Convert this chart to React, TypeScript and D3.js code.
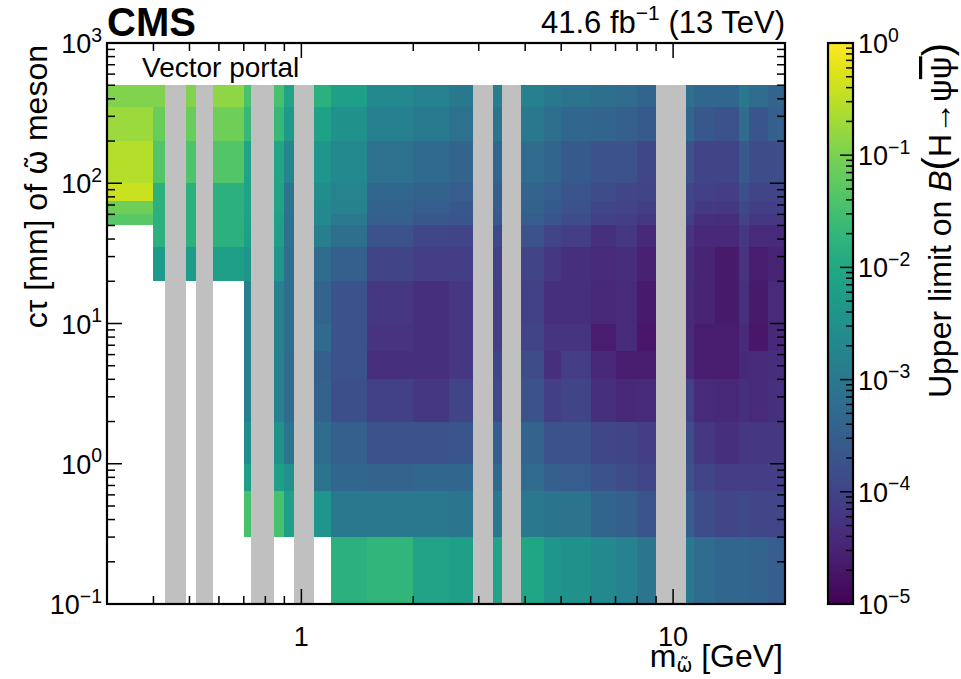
import React, { useEffect } from 'react';
import * as d3 from 'd3';

// ---- data -----------------------------------------------------------------
// mass bin edges [GeV] (columns), ctau bin edges [mm] (rows, top -> bottom)
const massEdges = [0.3, 0.4, 0.46, 0.55, 0.7, 0.78, 0.9, 1.0, 1.2, 1.5, 2.0, 2.5, 3.1, 3.7, 4.5, 5, 6, 7, 8, 9.5, 11.4, 13, 15, 16, 18, 20];
const ctauEdges = [500, 350, 200, 100, 75, 60, 50, 35, 20, 10, 6.4, 4, 2, 1, 0.64, 0.3, 0.1];

// log10 of the upper limit on B(H -> psi psibar); null = no point
const N = null;
const log10Limits: (number | null)[][] = [
  [-0.95, -0.95, -0.95, -0.85, -1.45, -1.45, -2.1, -1.8, -2.2, -2.65, -2.8, -3.0, -2.9, -2.85, -3.0, -3.1, -3.2, -3.25, -3.4, -3.2, -3.35, -3.35, -3.0, -3.25, -3.4],
  [-0.75, -1.15, -1.15, -1.1, -1.65, -1.65, -2.3, -2.15, -2.5, -2.85, -2.95, -3.15, -3.1, -3.0, -3.2, -3.35, -3.4, -3.5, -3.6, -3.35, -3.65, -3.75, -3.25, -3.7, -3.5],
  [-0.55, -1.35, -1.4, -1.35, -2.1, -2.05, -2.75, -2.4, -2.65, -3.15, -3.3, -3.4, -3.35, -3.25, -3.4, -3.6, -3.75, -3.75, -3.95, -3.75, -4.0, -4.0, -3.6, -3.85, -3.85],
  [-0.4, -1.8, -1.8, -1.8, -2.1, -2.1, -3.1, -2.55, -2.75, -3.35, -3.45, -3.55, -3.5, -3.4, -3.55, -3.7, -3.85, -3.95, -4.0, -3.95, -4.05, -4.1, -3.8, -4.0, -4.0],
  [-1.1, -1.8, -1.8, -1.8, -2.1, -2.1, -3.1, -2.65, -2.8, -3.45, -3.55, -3.65, -3.55, -3.45, -3.6, -3.75, -3.95, -4.0, -4.1, -4.0, -4.15, -4.2, -3.9, -4.1, -4.1],
  [-1.3, -1.8, -1.8, -1.8, -2.15, -2.15, -3.15, -2.65, -2.95, -3.5, -3.65, -3.7, -3.6, -3.55, -3.7, -3.85, -4.05, -4.1, -4.2, -4.05, -4.3, -4.35, -4.0, -4.2, -4.2],
  [N, -1.8, -1.8, -1.8, -2.2, -2.2, -3.15, -2.9, -3.2, -3.75, -3.95, -4.0, -3.9, -3.75, -4.0, -4.1, -4.3, -4.2, -4.45, -4.25, -4.45, -4.45, -4.2, -4.4, -4.4],
  [N, -2.25, -2.25, -2.2, -2.4, -2.4, -3.2, -3.25, -3.5, -4.0, -4.1, -4.1, -4.05, -4.0, -4.2, -4.3, -4.4, -4.35, -4.55, -4.35, -4.5, -4.65, -4.25, -4.6, -4.5],
  [N, N, N, N, -2.85, -2.8, -3.2, -3.4, -3.75, -4.2, -4.3, -4.2, -4.1, -4.05, -4.3, -4.3, -4.45, -4.4, -4.65, -4.4, -4.5, -4.65, -4.3, -4.65, -4.4],
  [N, N, N, N, -2.85, -2.8, -3.2, -3.3, -3.75, -4.25, -4.3, -4.2, -4.1, -4.0, -4.25, -4.25, -4.6, -4.4, -4.7, -4.4, -4.6, -4.6, -4.4, -4.7, -4.45],
  [N, N, N, N, -2.85, -2.8, -3.25, -3.5, -3.75, -4.3, -4.3, -4.2, -4.0, -3.85, -4.3, -4.1, -4.45, -4.6, -4.6, -4.4, -4.6, -4.6, -4.45, -4.4, -4.35],
  [N, N, N, N, -2.85, -2.8, -3.25, -3.45, -3.8, -4.05, -4.2, -4.0, -3.9, -3.75, -4.1, -4.0, -4.3, -4.45, -4.4, -4.05, -4.4, -4.45, -4.3, -4.4, -4.3],
  [N, N, N, N, -2.55, -2.5, -3.1, -3.25, -3.5, -3.75, -3.75, -3.7, -3.55, -3.4, -3.75, -3.75, -3.95, -4.0, -4.1, -3.85, -4.2, -4.3, -4.2, -4.2, -4.2],
  [N, N, N, N, -2.2, -2.2, -2.5, -3.1, -3.35, -3.4, -3.35, -3.35, -3.3, -3.25, -3.5, -3.55, -3.75, -3.85, -3.95, -3.75, -4.0, -4.1, -4.1, -4.1, -4.1],
  [N, N, N, N, -1.45, -1.45, -2.2, -2.4, -3.0, -3.0, -3.0, -3.05, -3.0, -3.0, -3.1, -3.1, -3.4, -3.5, -3.7, -3.55, -3.85, -3.95, -3.9, -3.95, -3.95],
  [N, N, N, N, N, N, N, N, -1.8, -1.72, -2.1, -2.2, -2.1, -2.05, -2.4, -2.5, -2.65, -2.8, -3.05, -3.0, -3.25, -3.35, -3.35, -3.4, -3.55],
];

// excluded resonance mass windows [GeV]
const vetoWindows: [number, number][] = [
  [0.43, 0.49], [0.52, 0.58], [0.73, 0.845], [0.956, 1.08], [2.9, 3.28], [3.46, 3.9], [8.97, 10.8],
];

const xMajorTicks = [1, 10];
const xMinorTicks = [0.4, 0.5, 0.6, 0.7, 0.8, 0.9, 2, 3, 4, 5, 6, 7, 8, 9];
const yDecades = [-1, 0, 1, 2, 3];
const zDecades = [-5, -4, -3, -2, -1, 0];

// ---- layout ----------------------------------------------------------------
const W = 961, H = 679;
const X0 = 107, X1 = 785, Y0 = 43, Y1 = 604;
const CBX0 = 828, CBX1 = 853;
const FONT = "'Liberation Sans', Arial, Helvetica, sans-serif";
const MARKFONT = "'DejaVu Sans', sans-serif";
const OMEGA_T = '\u03C9\u0303';

const xScale = d3.scaleLog().domain([0.3, 20]).range([X0, X1]);
const yScale = d3.scaleLog().domain([0.1, 1000]).range([Y1, Y0]);
const zScale = d3.scaleLog().domain([1e-5, 1]).range([Y1, Y0]);
const color = d3.scaleSequentialLog(d3.interpolateViridis).domain([1e-5, 1]);

function Pow10({ x, y, e, anchor, size }: { x: number; y: number; e: number; anchor: string; size: number }) {
  const s = e < 0 ? '\u2212' + String(-e) : String(e);
  return (
    <text x={x} y={y} textAnchor={anchor as any} fontSize={size} fontFamily={FONT} fill="#000">
      10<tspan dy={-size * 0.42} fontSize={size * 0.72}>{s}</tspan>
    </text>
  );
}

export default function App() {
  useEffect(() => {
    document.body.style.margin = '0';
    document.body.style.overflow = 'hidden';
  }, []);

  const cells: React.ReactNode[] = [];
  log10Limits.forEach((row, i) => {
    row.forEach((v, j) => {
      if (v === null) return;
      const xa = xScale(massEdges[j]);
      const xb = xScale(massEdges[j + 1]);
      const ya = yScale(ctauEdges[i]);
      const yb = yScale(ctauEdges[i + 1]);
      cells.push(
        <rect key={`c${i}-${j}`} x={xa} y={ya} width={xb - xa} height={yb - ya}
          fill={color(Math.pow(10, v))} shapeRendering="crispEdges" />
      );
    });
  });

  const heatTop = yScale(ctauEdges[0]);

  const yMinor: number[] = [];
  for (let d = -1; d < 3; d++) for (let k = 2; k <= 9; k++) yMinor.push(k * Math.pow(10, d));
  const zMinor: number[] = [];
  for (let d = -5; d < 0; d++) for (let k = 2; k <= 9; k++) zMinor.push(k * Math.pow(10, d));

  const gradStops = d3.range(0, 1.0001, 0.05);

  return (
    <svg width={W} height={H} style={{ position: 'absolute', left: 0, top: 0, background: '#fff' }}>
      <defs>
        <linearGradient id="cbgrad" x1="0" y1="1" x2="0" y2="0">
          {gradStops.map((t) => (
            <stop key={t} offset={t} stopColor={d3.interpolateViridis(t)} />
          ))}
        </linearGradient>
      </defs>
      <rect x={0} y={0} width={W} height={H} fill="#fff" />

      {/* heatmap */}
      <g>{cells}</g>

      {/* vetoed mass windows */}
      {vetoWindows.map(([a, b], i) => (
        <rect key={`v${i}`} x={xScale(a)} y={heatTop} width={xScale(b) - xScale(a)} height={Y1 - heatTop}
          fill="#c0c0c0" shapeRendering="crispEdges" />
      ))}

      {/* ticks */}
      <g stroke="#000" strokeWidth={1.5}>
        {xMajorTicks.map((t) => (
          <g key={`xM${t}`}>
            <line x1={xScale(t)} x2={xScale(t)} y1={Y1} y2={Y1 - 15} />
            <line x1={xScale(t)} x2={xScale(t)} y1={Y0} y2={Y0 + 15} />
          </g>
        ))}
        {xMinorTicks.map((t) => (
          <g key={`xm${t}`}>
            <line x1={xScale(t)} x2={xScale(t)} y1={Y1} y2={Y1 - 8} />
            <line x1={xScale(t)} x2={xScale(t)} y1={Y0} y2={Y0 + 8} />
          </g>
        ))}
        {yDecades.map((d) => (
          <g key={`yM${d}`}>
            <line x1={X0} x2={X0 + 15} y1={yScale(Math.pow(10, d))} y2={yScale(Math.pow(10, d))} />
            <line x1={X1} x2={X1 - 15} y1={yScale(Math.pow(10, d))} y2={yScale(Math.pow(10, d))} />
          </g>
        ))}
        {yMinor.map((t) => (
          <g key={`ym${t}`}>
            <line x1={X0} x2={X0 + 8} y1={yScale(t)} y2={yScale(t)} />
            <line x1={X1} x2={X1 - 8} y1={yScale(t)} y2={yScale(t)} />
          </g>
        ))}
      </g>

      {/* frame */}
      <rect x={X0} y={Y0} width={X1 - X0} height={Y1 - Y0} fill="none" stroke="#000" strokeWidth={2.2} />

      {/* tick labels */}
      {xMajorTicks.map((t) => (
        <text key={`xl${t}`} x={xScale(t)} y={Y1 + 42} textAnchor="middle" fontSize={27} fontFamily={FONT}>
          {String(t)}
        </text>
      ))}
      {yDecades.map((d) => (
        <Pow10 key={`yl${d}`} x={X0 - 5} y={yScale(Math.pow(10, d)) + 10} e={d} anchor="end" size={27} />
      ))}

      {/* axis titles */}
      <text x={X1 - 2} y={667} textAnchor="end" fontSize={32} fontFamily={FONT}>
        m<tspan dy={5} fontSize={19} fontFamily={MARKFONT}>{OMEGA_T}</tspan>
        <tspan dy={-5}>{' [GeV]'}</tspan>
      </text>
      <text transform={`translate(47,${Y0 + 2}) rotate(-90)`} textAnchor="end" fontSize={32} fontFamily={FONT}>
        {'c\u03C4 [mm] of '}
        <tspan fontFamily={MARKFONT} fontSize={30}>{OMEGA_T}</tspan>
        {' meson'}
      </text>

      {/* header */}
      <text x={X0} y={36} fontSize={40} fontWeight="bold" fontFamily={FONT}>CMS</text>
      <text x={X1} y={33} textAnchor="end" fontSize={31} fontFamily={FONT}>
        41.6 fb<tspan dy={-13} fontSize={21}>{'\u22121'}</tspan><tspan dy={13}> (13 TeV)</tspan>
      </text>
      <text x={142} y={77} fontSize={28} fontFamily={FONT}>Vector portal</text>

      {/* colour bar */}
      <rect x={CBX0} y={Y0} width={CBX1 - CBX0} height={Y1 - Y0} fill="url(#cbgrad)" />
      <g stroke="#000" strokeWidth={1.5}>
        {zDecades.map((d) => (
          <line key={`zM${d}`} x1={CBX1} x2={CBX1 - 13} y1={zScale(Math.pow(10, d))} y2={zScale(Math.pow(10, d))} />
        ))}
        {zMinor.map((t) => (
          <line key={`zm${t}`} x1={CBX1} x2={CBX1 - 7} y1={zScale(t)} y2={zScale(t)} />
        ))}
      </g>
      <rect x={CBX0} y={Y0} width={CBX1 - CBX0} height={Y1 - Y0} fill="none" stroke="#000" strokeWidth={2.2} />
      {zDecades.map((d) => (
        <Pow10 key={`zl${d}`} x={CBX1 + 5} y={zScale(Math.pow(10, d)) + 10} e={d} anchor="start" size={27} />
      ))}
      <text transform={`translate(951,${Y0}) rotate(-90)`} textAnchor="end" fontSize={32} fontFamily={FONT}>
        {'Upper limit on '}
        <tspan fontStyle="italic">B</tspan>
        <tspan fontSize={40}>(</tspan>
        {'H\u2192\u03C8'}
        <tspan style={{ textDecoration: 'overline' }}>{'\u03C8'}</tspan>
        <tspan fontSize={40}>)</tspan>
      </text>
    </svg>
  );
}
